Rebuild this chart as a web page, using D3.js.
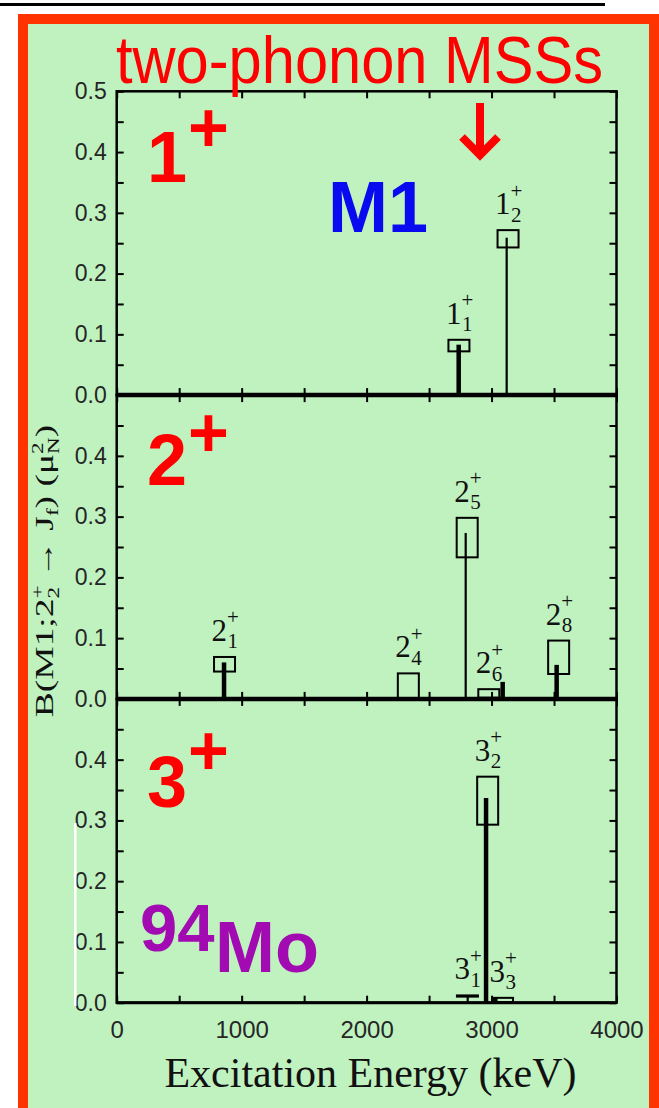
<!DOCTYPE html>
<html>
<head>
<meta charset="utf-8">
<script src="https://cdn.jsdelivr.net/npm/d3@7"></script>
<style>
  html, body { margin: 0; padding: 0; background: #fff; }
  svg { display: block; }
</style>
</head>
<body>
<svg id="chart" width="659" height="1108"></svg>
<script>
// ---- data ----------------------------------------------------------------
// Panels: final-state spin J_f of the M1 transitions from the 2+_2 state of 94Mo
const panelSpins = [1, 2, 3];

// Axis ticks
const xTickValues = [0, 1000, 2000, 3000, 4000];
const xMinorStep = 500;
const yTickValues = [0.0, 0.1, 0.2, 0.3, 0.4, 0.5];
const yMinorStep = 0.05;

// Final states J^pi_n
const stateSpin  = [1, 1, 2, 2, 2, 2, 2, 3, 3, 3];
const stateIndex = [1, 2, 1, 4, 5, 6, 8, 1, 2, 3];

// Calculated B(M1) strengths (stems), energy in keV, B in mu_N^2
const calcEnergy = [2737, 3121, 859, null, 2793, 3089, 3521, 2809, 2956, 3030];
const calcB      = [0.083, 0.259, 0.060, null, 0.273, 0.028, 0.056, 0.011, 0.337, 0.009];
const calcKind   = ["a", "b", "a", null, "b", "a", "a", "b", "a", "a"];

// Experimental B(M1) strengths (boxes: lower / upper limit)
const expEnergy = [2739, 3132, 863, 2334, 2805, 2978, 3537, 2807, 2969, 3088];
const expLow    = [0.072, 0.243, 0.045, 0.000, 0.233, 0.002, 0.041, 0.010, 0.293, 0.001];
const expHigh   = [0.091, 0.2715, 0.069, 0.042, 0.298, 0.016, 0.096, 0.012, 0.372, 0.008];

// ---- layout --------------------------------------------------------------
const W = 659, H = 1108;
const plotLeft = 116.7, plotRight = 616.5, plotTop = 91.3, panelH = 303.8;
const sans = "'Liberation Sans', Arial, Helvetica, sans-serif";
const serif = "'Liberation Serif', 'Times New Roman', Times, serif";
const stemWidth = { a: 4.5, b: 2.2 };

const svg = d3.select("#chart");

// page background, rule and framed green card
svg.append("rect").attr("width", W).attr("height", H).attr("fill", "#fff");
svg.append("rect").attr("x", 0).attr("y", 3).attr("width", 605).attr("height", 3).attr("fill", "#000");
svg.append("rect")
  .attr("x", 23).attr("y", 19).attr("width", 631).attr("height", 1130)
  .attr("fill", "#c0f2c0").attr("stroke", "#ff3300").attr("stroke-width", 10);

const x = d3.scaleLinear().domain([0, 4000]).range([plotLeft, plotRight]);

const bigDigitBase = [91, 90, 108];
const bigPlusBase  = [61, 62, 76];

function styleTicks(sel) {
  sel.select(".domain").remove();
  sel.selectAll(".tick line").attr("stroke", "#000").attr("stroke-width", 2);
}

panelSpins.forEach((spin, i) => {
  const top = plotTop + i * panelH;
  const bottom = top + panelH;
  const y = d3.scaleLinear().domain([0, 0.5]).range([bottom, top]);
  const g = svg.append("g");

  const xMinor = d3.range(0, 4000 + 1, xMinorStep);
  const yMinor = d3.range(0, 0.5 + 1e-9, yMinorStep);

  // inward ticks on all four sides
  g.append("g").attr("transform", `translate(0,${bottom})`)
    .call(d3.axisBottom(x).tickValues(xMinor).tickSize(-7).tickSizeOuter(0).tickFormat(""))
    .call(styleTicks);
  g.append("g").attr("transform", `translate(0,${top})`)
    .call(d3.axisTop(x).tickValues(xMinor).tickSize(-7).tickSizeOuter(0).tickFormat(""))
    .call(styleTicks);
  g.append("g").attr("transform", `translate(${plotLeft},0)`)
    .call(d3.axisLeft(y).tickValues(yMinor).tickSize(-7).tickSizeOuter(0).tickFormat(""))
    .call(styleTicks);
  g.append("g").attr("transform", `translate(${plotRight},0)`)
    .call(d3.axisRight(y).tickValues(yMinor).tickSize(-7).tickSizeOuter(0).tickFormat(""))
    .call(styleTicks);

  // panel frame
  g.append("rect")
    .attr("x", plotLeft).attr("y", top)
    .attr("width", plotRight - plotLeft).attr("height", panelH)
    .attr("fill", "none").attr("stroke", "#000").attr("stroke-width", 2.5);
  // zero line
  g.append("line")
    .attr("x1", plotLeft).attr("x2", plotRight)
    .attr("y1", y(0)).attr("y2", y(0))
    .attr("stroke", "#000").attr("stroke-width", i < 2 ? 4.5 : 3);

  // y tick labels
  const yl = g.append("g").attr("transform", `translate(${plotLeft},0)`)
    .call(d3.axisLeft(y)
      .tickValues(i === 0 ? yTickValues : yTickValues.slice(0, 5))
      .tickSize(0).tickPadding(10).tickFormat(d3.format(".1f")));
  yl.select(".domain").remove();
  yl.attr("font-family", sans).attr("font-size", 23).style("color", "#262626");

  const idx = d3.range(stateSpin.length).filter(k => stateSpin[k] === spin);

  // calculated strengths
  g.selectAll(null).data(idx.filter(k => calcB[k] !== null)).join("line")
    .attr("x1", k => x(calcEnergy[k])).attr("x2", k => x(calcEnergy[k]))
    .attr("y1", y(0)).attr("y2", k => y(calcB[k]))
    .attr("stroke", "#000")
    .attr("stroke-width", k => stemWidth[calcKind[k]]);

  // experimental strengths
  g.selectAll(null).data(idx).join("rect")
    .attr("x", k => x(expEnergy[k]) - 10.5)
    .attr("width", 21)
    .attr("y", k => y(expHigh[k]))
    .attr("height", k => Math.max(0.5, y(expLow[k]) - y(expHigh[k])))
    .attr("fill", "none").attr("stroke", "#000").attr("stroke-width", 2);

  // state labels J+_n
  idx.forEach(k => {
    const x0 = x(expEnergy[k]) - 13;
    const base = y(expHigh[k]) - 16;
    const t = g.append("g").attr("font-family", serif).attr("fill", "#111");
    t.append("text").attr("x", x0).attr("y", base).attr("font-size", 31).text(stateSpin[k]);
    t.append("text").attr("x", x0 + 15.5).attr("y", base - 16.5).attr("font-size", 21).text("+");
    t.append("text").attr("x", x0 + 16).attr("y", base + 7.5).attr("font-size", 21).text(stateIndex[k]);
  });

  // big spin label
  g.append("text")
    .attr("x", 167).attr("y", top + bigDigitBase[i])
    .attr("text-anchor", "middle")
    .attr("font-family", sans).attr("font-weight", "bold").attr("font-size", 72)
    .attr("fill", "#ff0000").text(spin);
  g.append("text")
    .attr("x", 208.5).attr("y", top + bigPlusBase[i])
    .attr("text-anchor", "middle")
    .attr("font-family", sans).attr("font-weight", "bold").attr("font-size", 70)
    .attr("fill", "#ff0000").text("+");

  // x tick labels under the last panel
  if (i === panelSpins.length - 1) {
    const xl = g.append("g").attr("transform", `translate(0,${bottom})`)
      .call(d3.axisBottom(x).tickValues(xTickValues).tickSize(0).tickPadding(18.5)
        .tickFormat(d3.format("d")));
    xl.select(".domain").remove();
    xl.attr("font-family", sans).attr("font-size", 24).style("color", "#262626");
  }
});

// stray white stroke beside the lowest panel's tick labels
svg.append("rect").attr("x", 74).attr("y", 823).attr("width", 2.5).attr("height", 183).attr("fill", "#fff");

// annotations
svg.append("text")
  .attr("x", 328).attr("y", 231.5)
  .attr("font-family", sans).attr("font-weight", "bold").attr("font-size", 72)
  .attr("fill", "#0a0af0").text("M1");

svg.append("text")
  .attr("x", 140).attr("y", 950.5)
  .attr("font-family", sans).attr("font-weight", "bold").attr("font-size", 67)
  .attr("fill", "#a20ab2").text("94");
svg.append("text")
  .attr("x", 215).attr("y", 972)
  .attr("font-family", sans).attr("font-weight", "bold").attr("font-size", 72)
  .attr("fill", "#a20ab2").text("Mo");

// title and arrow
svg.append("text")
  .attr("x", 116).attr("y", 83.3)
  .attr("font-family", sans).attr("font-size", 66)
  .attr("textLength", 487).attr("lengthAdjust", "spacingAndGlyphs")
  .attr("fill", "#ff0000").text("two-phonon MSSs");

svg.append("path")
  .attr("d", "M480,103 L480,153 M462,137 L480,155 L498,137")
  .attr("fill", "none").attr("stroke", "#ff0000").attr("stroke-width", 8)
  .attr("stroke-linejoin", "miter");

// x axis title
svg.append("text")
  .attr("x", 370.5).attr("y", 1087)
  .attr("text-anchor", "middle")
  .attr("font-family", serif).attr("font-size", 42)
  .attr("fill", "#111").text("Excitation Energy (keV)");

// y axis title, stretched along its length
const yt = svg.append("text")
  .attr("font-family", serif).attr("font-size", 26).attr("fill", "#111");
yt.append("tspan").text("B(M1;2");
yt.append("tspan").attr("font-size", 16).attr("dy", -10).text("+");
yt.append("tspan").attr("font-size", 16).attr("dx", -9).attr("dy", 16).text("2");
yt.append("tspan").attr("dy", -6).text(" \u2192 J");
yt.append("tspan").attr("font-size", 16).attr("dy", 5).text("f");
yt.append("tspan").attr("dy", -5).text(") (\u03bc");
yt.append("tspan").attr("font-size", 16).attr("dy", -10).text("2");
yt.append("tspan").attr("font-size", 16).attr("dx", -8).attr("dy", 16).text("N");
yt.append("tspan").attr("dy", -6).text(")");
const natural = yt.node().getComputedTextLength();
const stretch = 317 / natural;
yt.attr("text-anchor", "middle")
  .attr("transform", `translate(53,571) rotate(-90) scale(${stretch},1)`);
</script>
</body>
</html>
